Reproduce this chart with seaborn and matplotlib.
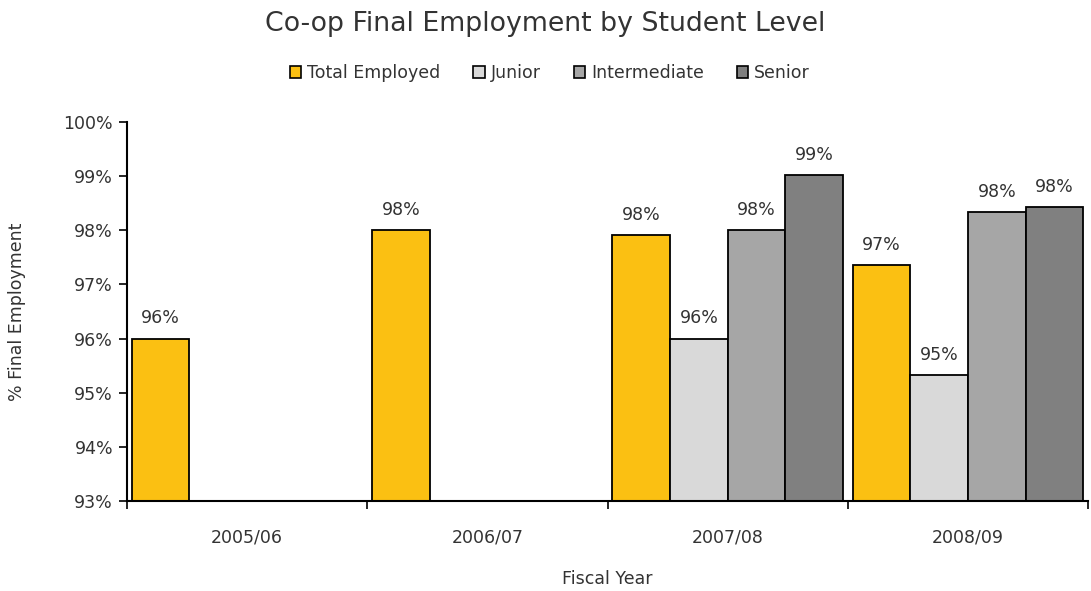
import pandas as pd
import matplotlib.pyplot as plt
import seaborn as sns
import numpy as np
from matplotlib.patches import Patch
from matplotlib.ticker import FixedLocator, FuncFormatter

years = ["2005/06", "2006/07", "2007/08", "2008/09"]
series = ["Total Employed", "Junior", "Intermediate", "Senior"]
total_employed = [96.0, 98.0, 97.91, 97.36]
junior = [np.nan, np.nan, 96.0, 95.33]
intermediate = [np.nan, np.nan, 98.0, 98.33]
senior = [np.nan, np.nan, 99.02, 98.43]
colors = ["#FBC012", "#D9D9D9", "#A6A6A6", "#808080"]


def main():
    rows = []
    for name, vals in zip(series, [total_employed, junior, intermediate, senior]):
        for yr, v in zip(years, vals):
            rows.append({"year": yr, "series": name, "value": v})
    df = pd.DataFrame(rows)

    sns.set_style("white")
    plt.rcParams["font.family"] = ["DejaVu Sans"]
    text_col = "#333333"
    fs = 12.5

    fig = plt.figure(figsize=(10.91, 5.91), dpi=100)
    ax = fig.add_axes([0.1164, 0.1523, 0.8809, 0.6413])

    sns.barplot(data=df, x="year", y="value", hue="series", order=years,
                hue_order=series, palette=colors, saturation=1, width=0.96, gap=0,
                edgecolor="black", linewidth=1.3, legend=False, ax=ax)

    for cont in ax.containers:
        ax.bar_label(cont, labels=[("" if np.isnan(v) else f"{v:.0f}%") for v in cont.datavalues],
                     padding=8, fontsize=fs, color=text_col)

    ax.set_ylim(93, 100)
    ax.set_xlim(-0.5, 3.5)
    ax.yaxis.set_major_locator(FixedLocator(np.arange(93, 101, 1)))
    ax.yaxis.set_major_formatter(FuncFormatter(lambda v, p: f"{v:.0f}%"))

    ax.set_xticks(np.arange(-0.5, 4, 1), minor=True)
    ax.tick_params(axis="x", which="minor", length=6, width=1.2, color="black", direction="out", bottom=True)
    ax.tick_params(axis="x", which="major", length=0, pad=20, labelsize=fs, labelcolor=text_col)
    ax.tick_params(axis="y", length=6, width=1.2, color="black", direction="out", left=True,
                   labelsize=fs, labelcolor=text_col, pad=4)

    sns.despine(ax=ax, top=True, right=True)
    for side in ["left", "bottom"]:
        ax.spines[side].set_color("black")
        ax.spines[side].set_linewidth(1.5)

    ax.set_xlabel("Fiscal Year", fontsize=fs, color=text_col)
    ax.set_ylabel("% Final Employment", fontsize=fs, color=text_col)
    ax.xaxis.set_label_coords(0.5, -0.182)
    ax.yaxis.set_label_coords(-0.105, 0.5)

    fig.suptitle("Co-op Final Employment by Student Level", fontsize=19.3, color=text_col, y=0.982)

    handles = [Patch(facecolor=c, edgecolor="black", linewidth=1.2) for c in colors]
    fig.legend(handles, series, loc="center", bbox_to_anchor=(0.504, 0.876), ncol=4, frameon=False,
               fontsize=fs, handlelength=0.65, handleheight=0.65, handletextpad=0.35,
               columnspacing=1.9, labelcolor=text_col)

    fig.savefig("out.png", dpi=100)


if __name__ == "__main__":
    main()
